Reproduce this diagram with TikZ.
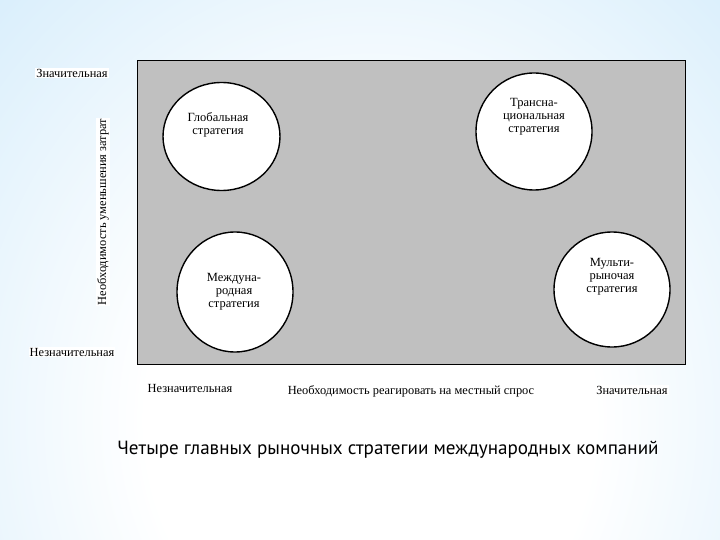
\documentclass[tikz,border=0pt]{standalone}
\usepackage{fontspec}
\setmainfont{Liberation Serif}
\newfontfamily\capfont{PT Sans}
\usetikzlibrary{shapes.geometric}
\definecolor{bgA}{HTML}{D4ECFB}
\definecolor{bgB}{HTML}{C2E1F8}
\definecolor{bgC}{HTML}{9CCEF3}
\definecolor{boxgray}{HTML}{C0C0C0}
\pgfdeclareradialshading{bgsh}{\pgfpoint{0bp}{0bp}}{color(0bp)=(white); color(14bp)=(white); color(36bp)=(bgA); color(44bp)=(bgB); color(60bp)=(bgC); color(80bp)=(bgC)}
\tikzset{
  strat/.style={ellipse, draw=black, line width=1.4pt, fill=white, inner sep=0pt},
  lbl/.style={font=\fontsize{12.5}{14}\selectfont, inner sep=0pt, align=center},
  axl/.style={font=\fontsize{12.4}{14}\selectfont, fill=white, inner sep=1pt},
}
\begin{document}
\begin{tikzpicture}[x=1pt,y=-1pt]
\useasboundingbox (0,0) rectangle (720,540);
\begin{scope}
\clip (0,0) rectangle (720,540);
\shade[shading=bgsh] (-30,-30) rectangle (770,870);
\end{scope}
\node[draw=black, line width=0.8pt, fill=boxgray, minimum width=548pt, minimum height=304pt, inner sep=0pt] (field) at (411,212) {};
\node[strat, minimum width=117pt, minimum height=108pt] (glob) at (221.5,136.5) {};
\node[strat, minimum width=116pt, minimum height=120pt] (intl) at (235,292) {};
\node[strat, minimum width=116pt, minimum height=117pt] (trans) at (534,131.5) {};
\node[strat, minimum width=116pt, minimum height=115pt] (multi) at (612,289.5) {};
\node[lbl] (globt) at (218,124.5) {Глобальная\\[-1pt]стратегия};
\node[lbl] (intlt) at (234,291.5) {Междуна-\\[-1pt]родная\\[-1pt]стратегия};
\node[lbl] (transt) at (534,117) {Трансна-\\[-1pt]циональная\\[-1pt]стратегия};
\node[lbl] (multit) at (612,276.5) {Мульти-\\[-1pt]рыночая\\[-1pt]стратегия};
\node[axl] (ytop) at (72,73) {Значительная};
\node[axl] (ybot) at (72,352) {Незначительная};
\node[axl, rotate=90] (ytitle) at (103,212) {Необходимость уменьшения затрат};
\node[axl] (xleft) at (190,388) {Незначительная};
\node[axl] (xtitle) at (411,391) {Необходимость реагировать на местный спрос};
\node[axl] (xright) at (632,390) {Значительная};
\node[font=\capfont\fontsize{19.1}{21}\selectfont, inner sep=0pt] (cap) at (388,450) {Четыре главных рыночных стратегии международных компаний};
\end{tikzpicture}
\end{document}
